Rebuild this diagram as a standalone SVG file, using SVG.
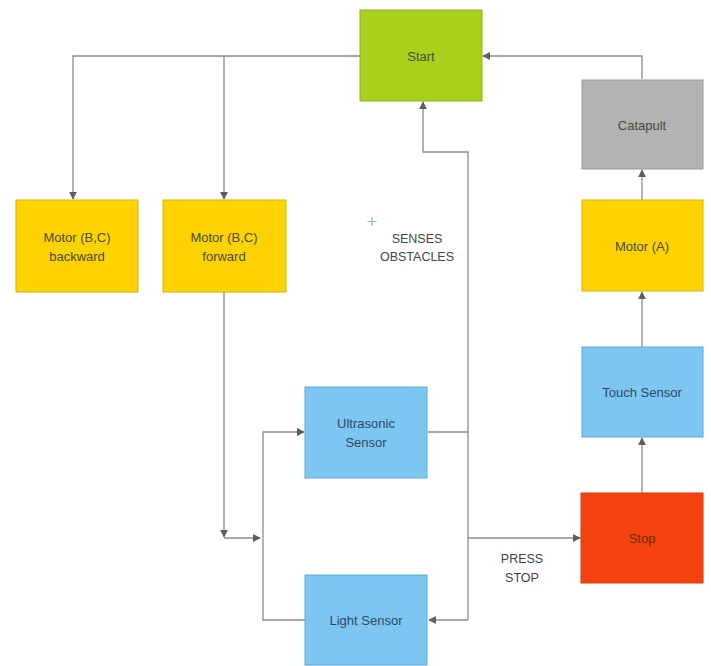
<svg xmlns="http://www.w3.org/2000/svg" width="711" height="666" viewBox="0 0 711 666">
<style>
.box{stroke-width:1}
.lbl{font-family:"Liberation Sans Narrow","Liberation Sans",Arial,sans-serif;font-size:13px;text-anchor:middle;fill:#4a4a3a}
.blue .lbl{fill:#2a4a6a}
.edge{fill:none;stroke:#8c8c8c;stroke-width:1.3}
.note{font-family:"Liberation Sans Narrow","Liberation Sans",Arial,sans-serif;font-size:12.5px;text-anchor:middle;fill:#444}
</style>
<defs>
<marker id="ah" viewBox="0 0 10 10" refX="9" refY="5" markerWidth="8" markerHeight="8" markerUnits="userSpaceOnUse" orient="auto">
<path d="M0,0 L10,5 L0,10 z" fill="#5e5e5e"/>
</marker>
</defs>
<rect width="711" height="666" fill="#ffffff"/>
<g id="connectors">
<polyline class="edge" points="360,56 73,56 73,199" marker-end="url(#ah)"/>
<polyline class="edge" points="224,56 224,199" marker-end="url(#ah)"/>
<polyline class="edge" points="642,79 642,56 483,56" marker-end="url(#ah)"/>
<polyline class="edge" points="428,432 468,432"/>
<polyline class="edge" points="468,620 468,152 423,152 423,102" marker-end="url(#ah)"/>
<polyline class="edge" points="468,620 429,620" marker-end="url(#ah)"/>
<polyline class="edge" points="468,538 580,538" marker-end="url(#ah)"/>
<polyline class="edge" points="224,292 224,537" marker-end="url(#ah)"/>
<polyline class="edge" points="224,538 260,538" marker-end="url(#ah)"/>
<polyline class="edge" points="305,620 263,620 263,432 304,432" marker-end="url(#ah)"/>
<polyline class="edge" points="642,493 642,438" marker-end="url(#ah)"/>
<polyline class="edge" points="642,347 642,292" marker-end="url(#ah)"/>
<polyline class="edge" points="642,200 642,170" marker-end="url(#ah)"/>
</g>
<g id="start"><rect class="box" x="360" y="10" width="122" height="91" fill="#a8d11c" stroke="#8fae22"/><text class="lbl" x="421" y="61">Start</text></g>
<g id="motor-backward"><rect class="box" x="16" y="200" width="122" height="92" fill="#fed300" stroke="#d8b400"/><text class="lbl" x="77" y="242">Motor (B,C)</text><text class="lbl" x="77" y="261">backward</text></g>
<g id="motor-forward"><rect class="box" x="163" y="200" width="123" height="92" fill="#fed300" stroke="#d8b400"/><text class="lbl" x="224" y="242">Motor (B,C)</text><text class="lbl" x="224" y="261">forward</text></g>
<g id="catapult"><rect class="box" x="582" y="80" width="121" height="89" fill="#b3b3b3" stroke="#999"/><text class="lbl" x="642" y="130">Catapult</text></g>
<g id="motor-a"><rect class="box" x="582" y="200" width="121" height="91" fill="#fed300" stroke="#d8b400"/><text class="lbl" x="642" y="251">Motor (A)</text></g>
<g id="touch-sensor" class="blue"><rect class="box" x="582" y="347" width="121" height="90" fill="#7dc6f2" stroke="#62a8d4"/><text class="lbl" x="642" y="397">Touch Sensor</text></g>
<g id="ultrasonic-sensor" class="blue"><rect class="box" x="305" y="387" width="122" height="91" fill="#7dc6f2" stroke="#62a8d4"/><text class="lbl" x="366" y="428">Ultrasonic</text><text class="lbl" x="366" y="447">Sensor</text></g>
<g id="stop"><rect class="box" x="581" y="493" width="122" height="90" fill="#f5430f" stroke="#d83a0c"/><text class="lbl" x="642" y="543" style="fill:#6a2a10">Stop</text></g>
<g id="light-sensor" class="blue"><rect class="box" x="305" y="575" width="122" height="90" fill="#7dc6f2" stroke="#62a8d4"/><text class="lbl" x="366" y="625">Light Sensor</text></g>
<g id="labels">
<path d="M372,217 v9 M367.5,221.5 h9" stroke="#8ab8b8" stroke-width="1.2"/>
<text class="note" x="417" y="243">SENSES</text>
<text class="note" x="417" y="261">OBSTACLES</text>
<text class="note" x="522" y="563">PRESS</text>
<text class="note" x="522" y="582">STOP</text>
</g>
</svg>
